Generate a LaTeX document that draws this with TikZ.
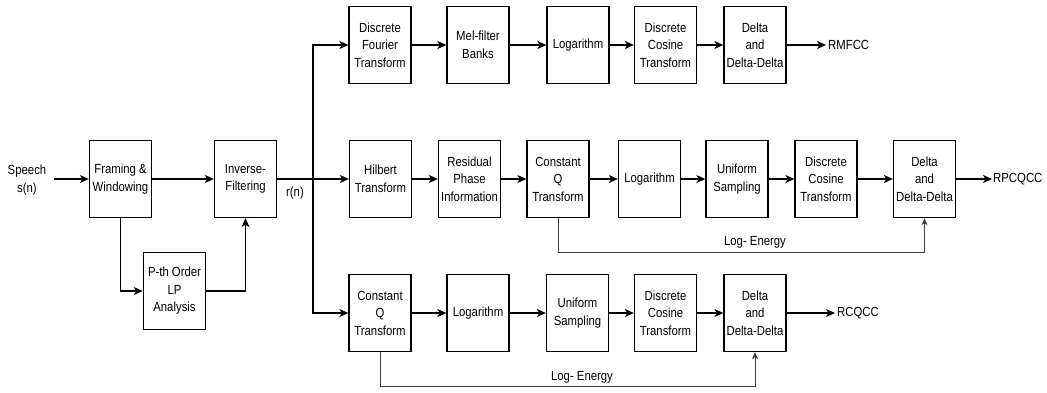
\documentclass[tikz,border=0pt]{standalone}
\usepackage{fontspec}
\setmainfont[FakeStretch=0.86]{Liberation Sans}
\usetikzlibrary{arrows.meta}
\begin{document}
\begin{tikzpicture}[x=1pt,y=-1pt,
  blk/.style={draw=black,line width=1.3pt,minimum width=62pt,minimum height=77pt,inner sep=1pt,align=center,font=\fontsize{13.2}{17.5}\selectfont},
  lbl/.style={align=center,inner sep=0pt,font=\fontsize{13.2}{17.5}\selectfont},
  arr/.style={line width=1.4pt,-{Stealth[length=9pt,width=8pt,inset=2.5pt]}},
  fb/.style={line width=0.9pt,draw=black!75,-{Stealth[length=7pt,width=6pt,inset=2pt]}}]
\useasboundingbox (0,0) rectangle (1047,392);
% left part
\node[lbl] (sp) at (27,180) {Speech\\s(n)};
\coordinate (spe) at (54,179);
\node[blk] (fw) at (120.5,179) {Framing \&\\Windowing};
\node[blk] (inv) at (245.5,179) {Inverse-\\Filtering};
\node[blk] (lp) at (174.5,291) {P-th Order\\LP\\Analysis};
\node[lbl] (rn) at (295,193) {r(n)};
\coordinate (j) at (313,179);
% top row
\node[blk] (dft) at (380,45) {Discrete\\Fourier\\Transform};
\node[blk] (mel) at (478,45) {Mel-filter\\Banks};
\node[blk] (lgt) at (578,45) {Logarithm};
\node[blk] (dctt) at (665.5,45) {Discrete\\Cosine\\Transform};
\node[blk] (dlt) at (755,45) {Delta\\and\\Delta-Delta};
\coordinate (ot) at (826,45);
\node[lbl,anchor=west] (rmfcc) at (828,45) {RMFCC};
% middle row
\node[blk] (hil) at (380.5,179) {Hilbert\\Transform};
\node[blk] (res) at (469.5,179) {Residual\\Phase\\Information};
\node[blk] (cqm) at (558,179) {Constant\\Q\\Transform};
\node[blk] (lgm) at (649.5,179) {Logarithm};
\node[blk] (unm) at (737,179) {Uniform\\Sampling};
\node[blk] (dctm) at (826,179) {Discrete\\Cosine\\Transform};
\node[blk] (dlm) at (924.5,179) {Delta\\and\\Delta-Delta};
\coordinate (om) at (992,179);
\node[lbl,anchor=west] (rpcqcc) at (993,179) {RPCQCC};
\coordinate (fm) at (924.5,252);
\node[lbl] (lem) at (755,242) {Log- Energy};
% bottom row
\node[blk] (cqb) at (380,313) {Constant\\Q\\Transform};
\node[blk] (lgb) at (478,313) {Logarithm};
\node[blk] (unb) at (577.5,313) {Uniform\\Sampling};
\node[blk] (dctb) at (665.5,313) {Discrete\\Cosine\\Transform};
\node[blk] (dlb) at (755,313) {Delta\\and\\Delta-Delta};
\coordinate (ob) at (835,313);
\node[lbl,anchor=west] (rcqcc) at (837,313) {RCQCC};
\coordinate (fbb) at (755,386);
\node[lbl] (leb) at (582,377) {Log- Energy};
% connectors left
\draw[arr] (spe) -- (fw.west);
\draw[arr] (fw.east) -- (inv.west);
\draw[arr] (fw.south) |- (lp.west);
\draw[arr] (lp.east) -| (inv.south);
\draw[arr] (inv.east) -- (hil.west);
\draw[arr] (j) |- (dft.west);
\draw[arr] (j) |- (cqb.west);
% top
\draw[arr] (dft) -- (mel);
\draw[arr] (mel) -- (lgt);
\draw[arr] (lgt) -- (dctt);
\draw[arr] (dctt) -- (dlt);
\draw[arr] (dlt) -- (ot);
% middle
\draw[arr] (hil) -- (res);
\draw[arr] (res) -- (cqm);
\draw[arr] (cqm) -- (lgm);
\draw[arr] (lgm) -- (unm);
\draw[arr] (unm) -- (dctm);
\draw[arr] (dctm) -- (dlm);
\draw[arr] (dlm) -- (om);
\draw[fb] (cqm.south) |- (fm) -- (dlm.south);
% bottom
\draw[arr] (cqb) -- (lgb);
\draw[arr] (lgb) -- (unb);
\draw[arr] (unb) -- (dctb);
\draw[arr] (dctb) -- (dlb);
\draw[arr] (dlb) -- (ob);
\draw[fb] (cqb.south) |- (fbb) -- (dlb.south);
\end{tikzpicture}
\end{document}
